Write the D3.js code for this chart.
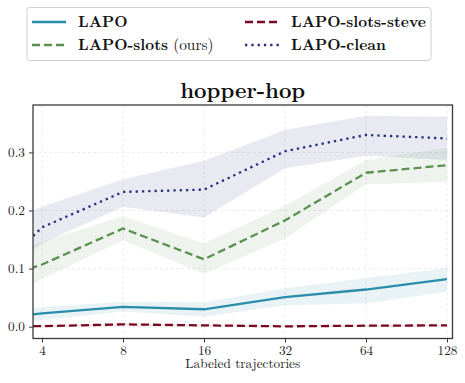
<!DOCTYPE html>
<html><head><meta charset="utf-8">
<script src="https://cdn.jsdelivr.net/npm/d3@7"></script>
<style>body{margin:0;background:#fff}svg{display:block}</style>
</head><body><svg id="c" width="465" height="383"></svg>
<script>
// x positions (2 lies just left of the visible axis range)
const xValues = [2, 4, 8, 16, 32, 64, 128];
const xTicks = [4, 8, 16, 32, 64, 128];
const yTicks = [0.0, 0.1, 0.2, 0.3];

const lapoMean = [0.008, 0.023, 0.034, 0.030, 0.051, 0.064, 0.082];
const lapoLow  = [0.000, 0.0115, 0.026, 0.017, 0.037, 0.040, 0.060];
const lapoHigh = [0.018, 0.034, 0.043, 0.042, 0.066, 0.084, 0.101];

const slotsMean = [0.062, 0.107, 0.169, 0.116, 0.183, 0.265, 0.278];
const slotsLow  = [0.006, 0.082, 0.149, 0.091, 0.152, 0.245, 0.249];
const slotsHigh = [0.106, 0.146, 0.190, 0.143, 0.208, 0.287, 0.308];

const steveMean = [0.001, 0.001, 0.004, 0.0023, 0.0006, 0.0017, 0.0023];
const steveLow  = [0.000, 0.000, 0.002, 0.0005, 0.000, 0.000, 0.0005];
const steveHigh = [0.003, 0.003, 0.006, 0.004, 0.002, 0.0035, 0.004];

const cleanMean = [0.035, 0.171, 0.232, 0.236, 0.302, 0.330, 0.324];
const cleanLow  = [0.030, 0.1435, 0.2065, 0.188, 0.2726, 0.2943, 0.287];
const cleanHigh = [0.148, 0.2065, 0.2537, 0.2857, 0.3385, 0.363, 0.3614];

const seriesNames = ["LAPO", "LAPO-slots", "LAPO-slots-steve", "LAPO-clean"];

const series = [
  {name: seriesNames[0], mean: lapoMean, low: lapoLow, high: lapoHigh, color: "#2a8cab", dash: null},
  {name: seriesNames[1], mean: slotsMean, low: slotsLow, high: slotsHigh, color: "#5b9150", dash: "8,4"},
  {name: seriesNames[2], mean: steveMean, low: steveLow, high: steveHigh, color: "#7a0a22", dash: "8,4"},
  {name: seriesNames[3], mean: cleanMean, low: cleanLow, high: cleanHigh, color: "#2a2d78", dash: "2.3,4"}
];

const svg = d3.select("#c");
const serif = `"Latin Modern Roman", "Liberation Serif", serif`;

function fitSize(str, weight, target, base) {
  const t = svg.append("text").attr("font-family", serif).attr("font-size", base)
    .attr("font-weight", weight).text(str);
  const w = t.node().getComputedTextLength(); t.remove();
  return w > 0 ? base * target / w : base;
}
const tickSize = Math.max(11, Math.min(16, fitSize("Labeled trajectories", "normal", 115, 14)));
const titleSize = Math.max(18, Math.min(26, fitSize("hopper-hop", "bold", 125, 20)));
const legendSize = Math.max(13, Math.min(18, fitSize("LAPO-slots-steve", "bold", 135, 16)));

const L = 33, R = 452.5, T = 105, B = 338.5;

const x = d3.scaleLog().base(2).domain([4, 128]).range([42, 447]);
const y = d3.scaleLinear().domain([0, 0.3]).range([326.7, 152.4]);

svg.append("defs").append("clipPath").attr("id", "clip")
  .append("rect").attr("x", L).attr("y", T).attr("width", R - L).attr("height", B - T);

// grid
const grid = svg.append("g");
grid.selectAll(".gx").data(xTicks).enter().append("line")
  .attr("x1", d => x(d)).attr("x2", d => x(d)).attr("y1", T).attr("y2", B)
  .attr("stroke", "#e6e6e6").attr("stroke-width", 0.8).attr("stroke-dasharray", "3,2.5");
grid.selectAll(".gy").data(yTicks).enter().append("line")
  .attr("x1", L).attr("x2", R).attr("y1", d => y(d)).attr("y2", d => y(d))
  .attr("stroke", "#e6e6e6").attr("stroke-width", 0.8).attr("stroke-dasharray", "3,2.5");

const plot = svg.append("g").attr("clip-path", "url(#clip)");
const area = (s) => d3.area().x((d, i) => x(xValues[i])).y0((d, i) => y(s.low[i])).y1((d, i) => y(s.high[i]));
const line = d3.line().x((d, i) => x(xValues[i])).y(d => y(d));

series.forEach(s => {
  plot.append("path").datum(s.mean).attr("d", area(s)).attr("fill", s.color).attr("fill-opacity", 0.1);
});
series.forEach(s => {
  const p = plot.append("path").datum(s.mean).attr("d", line).attr("fill", "none")
    .attr("stroke", s.color).attr("stroke-width", 2.3);
  if (s.dash) p.attr("stroke-dasharray", s.dash);
});

// frame
svg.append("rect").attr("x", L).attr("y", T).attr("width", R - L).attr("height", B - T)
  .attr("fill", "none").attr("stroke", "#3a3a3a").attr("stroke-width", 1.3);

// axes
const xAxis = svg.append("g").attr("transform", `translate(0,${B})`)
  .call(d3.axisBottom(x).tickValues(xTicks).tickFormat(d3.format("d")).tickSize(4).tickPadding(3.5));
const yAxis = svg.append("g").attr("transform", `translate(${L},0)`)
  .call(d3.axisLeft(y).tickValues(yTicks).tickFormat(d3.format(".1f")).tickSize(4).tickPadding(4));
[xAxis, yAxis].forEach(a => {
  a.select(".domain").remove();
  a.selectAll("line").attr("stroke", "#3a3a3a").attr("stroke-width", 1);
  a.selectAll("text").attr("font-family", serif).attr("font-size", tickSize).attr("fill", "#222");
});

svg.append("text").attr("x", (L + R) / 2).attr("y", 367.5).attr("text-anchor", "middle")
  .attr("font-family", serif).attr("font-size", tickSize).attr("fill", "#222").text("Labeled trajectories");

svg.append("text").attr("x", (L + R) / 2).attr("y", 98).attr("text-anchor", "middle")
  .attr("font-family", serif).attr("font-weight", "bold").attr("font-size", titleSize).attr("fill", "#111").text("hopper-hop");

// legend
const lg = svg.append("g");
lg.append("rect").attr("x", 27).attr("y", 7.5).attr("width", 404).attr("height", 53).attr("rx", 3)
  .attr("fill", "#fff").attr("stroke", "#d0d0d0").attr("stroke-width", 1);
const legendPos = [[32, 22], [32, 45], [245, 22], [245, 45]];
series.forEach((s, i) => {
  const [lx, ly] = legendPos[i];
  const l = lg.append("line").attr("x1", lx).attr("x2", lx + 34).attr("y1", ly).attr("y2", ly)
    .attr("stroke", s.color).attr("stroke-width", 2.3);
  if (s.dash) l.attr("stroke-dasharray", s.dash);
  const t = lg.append("text").attr("x", lx + 46).attr("y", ly + 5).attr("font-family", serif)
    .attr("font-size", legendSize).attr("fill", "#111");
  t.append("tspan").attr("font-weight", "bold").text(s.name);
  if (i === 1) t.append("tspan").attr("font-weight", "normal").text(" (ours)");
});
</script></body></html>
